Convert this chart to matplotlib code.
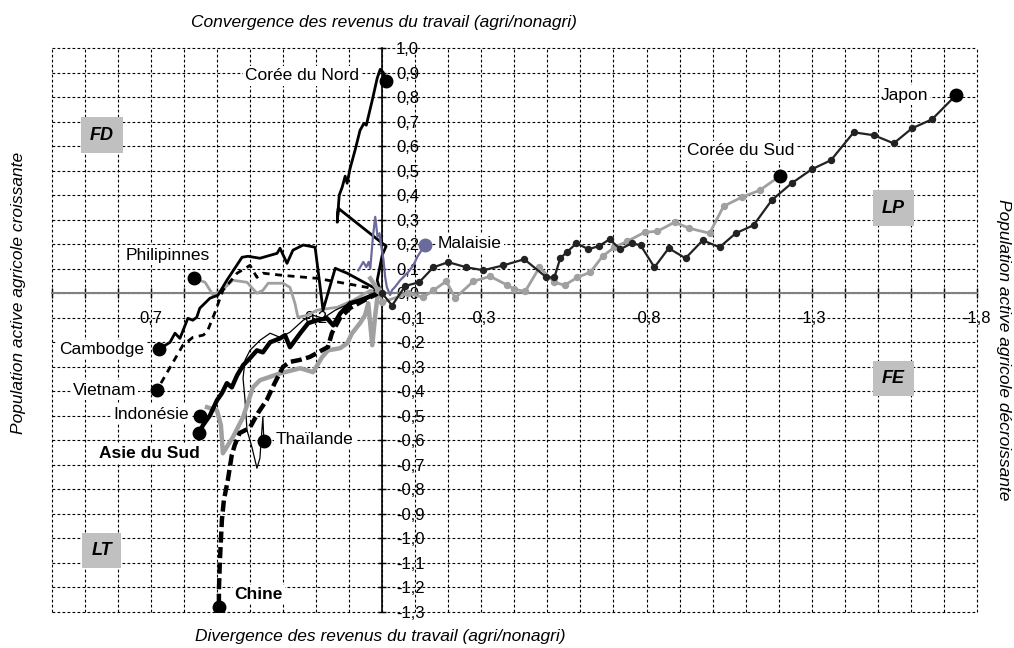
import numpy as np
import matplotlib
matplotlib.use("Agg")
import matplotlib.pyplot as plt

plt.rcParams["font.family"] = ["Liberation Sans", "DejaVu Sans"]

# --- data: (x = relative labour income change, y = agri labour force change)
japon_x = [0.0, -0.03, -0.07, -0.112, -0.155, -0.20, -0.255, -0.306, -0.367, -0.43,
           -0.497, -0.521, -0.539, -0.558, -0.588, -0.624, -0.655, -0.688, -0.721,
           -0.755, -0.782, -0.824, -0.867, -0.918, -0.97, -1.021, -1.07, -1.124,
           -1.179, -1.239, -1.30, -1.358, -1.427, -1.488, -1.548, -1.603, -1.664, -1.736]
japon_y = [0.0, -0.05, 0.03, 0.045, 0.106, 0.127, 0.106, 0.094, 0.114, 0.139,
           0.065, 0.065, 0.143, 0.167, 0.204, 0.18, 0.192, 0.22, 0.18,
           0.204, 0.196, 0.106, 0.184, 0.143, 0.216, 0.188, 0.245, 0.278,
           0.38, 0.449, 0.506, 0.543, 0.657, 0.645, 0.612, 0.673, 0.71, 0.808]

coree_sud_x = [0.012, 0.0, -0.079, -0.124, -0.155, -0.194, -0.221, -0.276, -0.327,
               -0.379, -0.40, -0.433, -0.476, -0.521, -0.552, -0.591, -0.63, -0.667,
               -0.703, -0.742, -0.794, -0.833, -0.885, -0.93, -0.991, -1.033,
               -1.088, -1.142, -1.203]
coree_sud_y = [0.012, -0.037, 0.0, -0.016, 0.012, 0.049, -0.019, 0.049, 0.069,
               0.033, 0.016, 0.008, 0.106, 0.045, 0.033, 0.065, 0.086, 0.151,
               0.188, 0.212, 0.249, 0.253, 0.29, 0.265, 0.245, 0.355,
               0.392, 0.42, 0.478]

coree_nord_x = [0.006, 0.015, 0.0, -0.012, 0.133, 0.136, 0.13, 0.121, 0.112, 0.106,
                0.097, 0.082, 0.067, 0.055, 0.048, 0.03, 0.015, 0.006, -0.003, -0.012]
coree_nord_y = [0.012, 0.053, 0.155, 0.192, 0.347, 0.29, 0.40, 0.433, 0.478, 0.449,
                0.51, 0.584, 0.665, 0.694, 0.686, 0.788, 0.878, 0.914, 0.902, 0.865]

malaisie_x = [0.072, 0.057, 0.048, 0.041, 0.036, 0.028, 0.021, 0.014, 0.008, 0.004,
              -0.004, -0.009, -0.014, -0.024, -0.03, -0.039, -0.055, -0.08, -0.095,
              -0.107, -0.13]
malaisie_y = [0.094, 0.128, 0.107, 0.128, 0.101, 0.23, 0.312, 0.23, 0.245, 0.204,
              0.136, 0.067, 0.026, -0.007, 0.013, 0.026, 0.054, 0.088, 0.116,
              0.15, 0.198]

philippines_x = [0.006, 0.036, 0.088, 0.136, 0.197, 0.227, 0.255, 0.264, 0.279, 0.30,
                 0.345, 0.361, 0.379, 0.409, 0.452, 0.485, 0.512, 0.536, 0.57]
philippines_y = [0.004, 0.012, -0.029, -0.057, -0.069, -0.09, -0.098, -0.041, 0.024,
                 0.041, 0.041, 0.012, 0.0, 0.045, 0.053, 0.012, -0.007, 0.045, 0.061]

cambodge_x = [0.006, 0.027, 0.106, 0.142, 0.179, 0.194, 0.203, 0.239, 0.27, 0.288,
              0.309, 0.318, 0.37, 0.406, 0.424, 0.47, 0.497, 0.521, 0.552, 0.561,
              0.573, 0.588, 0.612, 0.627, 0.642, 0.676]
cambodge_y = [0.004, 0.024, 0.082, 0.102, -0.069, 0.094, 0.188, 0.197, 0.176, 0.122,
              0.184, 0.163, 0.143, 0.151, 0.147, 0.053, -0.008, -0.02, -0.061, -0.098,
              -0.11, -0.102, -0.184, -0.163, -0.20, -0.229]

vietnam_x = [0.006, 0.045, 0.197, 0.30, 0.361, 0.379, 0.40, 0.439, 0.482, 0.506,
             0.53, 0.542, 0.573, 0.603, 0.682]
vietnam_y = [0.004, 0.024, 0.061, 0.073, 0.082, 0.065, 0.114, 0.082, 0.012, -0.078,
             -0.159, -0.171, -0.18, -0.212, -0.396]

thailande_x = [0.006, 0.052, 0.097, 0.142, 0.179, 0.209, 0.239, 0.279, 0.309, 0.339,
               0.37, 0.40, 0.415, 0.421, 0.415, 0.409, 0.394, 0.379, 0.37, 0.364,
               0.361, 0.358]
thailande_y = [0.004, -0.029, -0.041, -0.069, -0.102, -0.09, -0.11, -0.159, -0.18,
               -0.163, -0.192, -0.233, -0.273, -0.347, -0.437, -0.559, -0.629, -0.714,
               -0.673, -0.559, -0.506, -0.603]

asie_sud_x = [0.006, 0.036, 0.067, 0.097, 0.127, 0.148, 0.167, 0.197, 0.224, 0.248,
              0.279, 0.294, 0.309, 0.339, 0.361, 0.379, 0.40, 0.421, 0.439, 0.455,
              0.47, 0.485, 0.50, 0.521, 0.542, 0.555]
asie_sud_y = [0.004, -0.012, -0.029, -0.041, -0.082, -0.131, -0.102, -0.11, -0.122,
              -0.163, -0.22, -0.171, -0.184, -0.20, -0.241, -0.233, -0.265, -0.294,
              -0.335, -0.384, -0.367, -0.408, -0.437, -0.498, -0.538, -0.571]

indonesie_x = [0.036, 0.012, 0.021, 0.03, 0.042, 0.052, 0.067, 0.091, 0.106, 0.127,
               0.164, 0.182, 0.209, 0.248, 0.309, 0.37, 0.391, 0.421, 0.452, 0.482,
               0.488, 0.50, 0.53]
indonesie_y = [0.061, 0.012, -0.09, -0.212, -0.041, -0.09, -0.122, -0.163, -0.204,
               -0.224, -0.233, -0.261, -0.322, -0.306, -0.327, -0.355, -0.384, -0.506,
               -0.588, -0.653, -0.538, -0.478, -0.465]
indonesie_end = (0.552, -0.502)

chine_x = [0.006, 0.052, 0.097, 0.127, 0.152, 0.164, 0.219, 0.249, 0.279, 0.30,
           0.325, 0.349, 0.376, 0.401, 0.431, 0.446, 0.455, 0.467, 0.479, 0.485,
           0.488, 0.491, 0.494, 0.494]
chine_y = [0.004, -0.027, -0.06, -0.10, -0.162, -0.219, -0.26, -0.272, -0.28, -0.30,
           -0.366, -0.435, -0.489, -0.55, -0.57, -0.619, -0.66, -0.762, -0.844, -0.925,
           -1.007, -1.089, -1.211, -1.28]

x_ticks = [0.7, 0.2, -0.3, -0.8, -1.3, -1.8]
x_grid = np.round(np.arange(-1.8, 1.001, 0.1), 1)
y_grid = np.round(np.arange(-1.3, 1.001, 0.1), 1)

GREY = "#a0a0a0"
PURPLE = "#6a6a9c"
FS = 12.5
TICK_FS = 12


def fmt(v):
    return f"{v:.1f}".replace(".", ",")


fig = plt.figure(figsize=(10.14, 6.48), dpi=100)
ax = fig.add_axes([0.051, 0.0559, 0.9125, 0.8696])
ax.set_xlim(1.0, -1.8)
ax.set_ylim(-1.3, 1.0)

# dotted grid, also forms the outer frame
for v in x_grid:
    ax.axvline(v, color="black", lw=0.8, ls=(0, (2.5, 2)), zorder=0.5, clip_on=False)
for v in y_grid:
    ax.axhline(v, color="black", lw=0.8, ls=(0, (2.5, 2)), zorder=0.5, clip_on=False)

ax.spines["top"].set_visible(False)
ax.spines["left"].set_visible(False)
ax.spines["bottom"].set_position(("data", 0))
ax.spines["bottom"].set_color("#808080")
ax.spines["bottom"].set_linewidth(1.5)
ax.spines["right"].set_position(("data", 0))
ax.spines["right"].set_linewidth(1.2)
ax.yaxis.set_ticks_position("right")
ax.xaxis.set_ticks_position("bottom")

ax.set_xticks(x_ticks)
ax.set_xticklabels([fmt(v) for v in x_ticks])
ax.set_xticks(x_grid, minor=True)
ax.set_yticks(y_grid)
ax.set_yticklabels([fmt(v) for v in y_grid])
ax.tick_params(axis="x", which="both", direction="inout", length=7, width=1,
               pad=9, labelsize=TICK_FS)
ax.tick_params(axis="y", direction="inout", length=6, width=1, pad=7,
               labelsize=TICK_FS)

# series
ax.plot(japon_x, japon_y, color="#222222", lw=1.6, marker="o", ms=4.3, zorder=4)
ax.plot(coree_sud_x, coree_sud_y, color=GREY, lw=2, marker="o", ms=4.3, zorder=3.5)
ax.plot(coree_nord_x, coree_nord_y, color="black", lw=2, zorder=3)
ax.plot(philippines_x, philippines_y, color=GREY, lw=2, zorder=3)
ax.plot(cambodge_x, cambodge_y, color="black", lw=2, zorder=3)
ax.plot(vietnam_x, vietnam_y, color="black", lw=2, ls=(0, (2.5, 2)), zorder=3)
ax.plot(thailande_x, thailande_y, color="black", lw=0.9, zorder=3)
ax.plot(indonesie_x, indonesie_y, color=GREY, lw=3.2, zorder=3)
ax.plot(asie_sud_x, asie_sud_y, color="black", lw=3.2, zorder=3.2)
ax.plot(chine_x, chine_y, color="black", lw=3.2, ls=(0, (2.5, 1)), zorder=3.2)
ax.plot(malaisie_x, malaisie_y, color=PURPLE, lw=1.6, zorder=3.3)

# end-point dots
ends = [(japon_x, japon_y, "black"), (coree_sud_x, coree_sud_y, "black"),
        (coree_nord_x, coree_nord_y, "black"), (philippines_x, philippines_y, "black"),
        (cambodge_x, cambodge_y, "black"), (vietnam_x, vietnam_y, "black"),
        (thailande_x, thailande_y, "black"), (asie_sud_x, asie_sud_y, "black"),
        (chine_x, chine_y, "black"), (malaisie_x, malaisie_y, PURPLE)]
for xs, ys, c in ends:
    ax.plot(xs[-1], ys[-1], "o", color=c, ms=9, zorder=5)
ax.plot(*indonesie_end, "o", color="black", ms=9, zorder=5)

# series labels
wbox = dict(fc="white", ec="none", pad=1.5)
labels = [
    (0.243, 0.887, "Corée du Nord", "center", "normal"),
    (-0.169, 0.205, "Malaisie", "left", "normal"),
    (0.649, 0.156, "Philipinnes", "center", "normal"),
    (0.849, -0.231, "Cambodge", "center", "normal"),
    (0.84, -0.395, "Vietnam", "center", "normal"),
    (0.70, -0.493, "Indonésie", "center", "normal"),
    (0.704, -0.656, "Asie du Sud", "center", "bold"),
    (0.204, -0.595, "Thaïlande", "center", "normal"),
    (0.373, -1.231, "Chine", "center", "bold"),
    (-1.581, 0.809, "Japon", "center", "normal"),
    (-1.084, 0.581, "Corée du Sud", "center", "normal"),
]
for x, y, s, ha, w in labels:
    ax.text(x, y, s, ha=ha, va="center", fontsize=FS, fontweight=w, bbox=wbox,
            zorder=4.5)

# quadrant tags
gbox = dict(boxstyle="square,pad=0.5", fc="#c0c0c0", ec="none")
for x, y, s in [(0.849, 0.646, "FD"), (-1.547, 0.348, "LP"),
                (-1.547, -0.346, "FE"), (0.849, -1.051, "LT")]:
    ax.text(x, y, s, ha="center", va="center", fontsize=13, fontweight="bold",
            style="italic", bbox=gbox, zorder=4.5)

# axis titles
fig.text(0.379, 0.966, "Convergence des revenus du travail (agri/nonagri)",
         ha="center", va="center", fontsize=FS, style="italic")
fig.text(0.375, 0.017, "Divergence des revenus du travail (agri/nonagri)",
         ha="center", va="center", fontsize=FS, style="italic")
fig.text(0.018, 0.548, "Population active agricole croissante", rotation=90,
         ha="center", va="center", fontsize=FS, style="italic")
fig.text(0.99, 0.461, "Population active agricole décroissante", rotation=-90,
         ha="center", va="center", fontsize=FS, style="italic")

fig.savefig("out.png", dpi=100)
